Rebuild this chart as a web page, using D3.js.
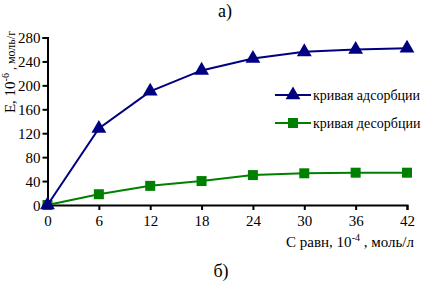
<!DOCTYPE html>
<html>
<head>
<meta charset="utf-8">
<script src="https://cdn.jsdelivr.net/npm/d3@7"></script>
</head>
<body style="margin:0; background:#fff">
<svg class="chart" width="421" height="286" font-family="Liberation Serif"></svg>
<script>
var xValues = [0, 6, 12, 18, 24, 30, 36, 42];
var adsorption = [0, 128, 190, 225, 245, 256, 260, 262];
var desorption = [0, 18, 32, 40, 50, 53, 54, 54];
var yTicks = [0, 40, 80, 120, 160, 200, 240, 280];
var seriesNames = ["кривая адсорбции", "кривая десорбции"];

var FONT = "Liberation Serif";
var vis = d3.select(".chart"),
    MARGINS = { top: 37.5, right: 14, bottom: 81, left: 47.5 };

var xScale = d3.scaleLinear().domain([0, 42]).range([MARGINS.left, 407]),
    yScale = d3.scaleLinear().domain([0, 280]).range([205, MARGINS.top]);

var xAxis = d3.axisBottom(xScale).tickValues(xValues).tickSize(5).tickPadding(5),
    yAxis = d3.axisLeft(yScale).tickValues(yTicks).tickSize(5).tickPadding(2);

var gx = vis.append("g").attr("transform", "translate(0,205)").call(xAxis);
var gy = vis.append("g").attr("transform", "translate(" + MARGINS.left + ",0)").call(yAxis);
[gx, gy].forEach(function (g) {
  g.attr("font-family", FONT).attr("font-size", 15);
  g.select(".domain").attr("stroke", "#000").attr("stroke-width", 2);
  g.selectAll(".tick line").attr("stroke", "#000").attr("stroke-width", 2);
  g.selectAll(".tick text").attr("fill", "#000");
});
gy.selectAll(".tick text").attr("dy", "0.35em");

var lineGen = function (vals) {
  return d3.line().x(function (d, i) { return xScale(xValues[i]); })
                  .y(function (d) { return yScale(d); })(vals);
};

var tri = d3.symbol().type(d3.symbolTriangle).size(95),
    sq = d3.symbol().type(d3.symbolSquare).size(100);

function drawSeries(vals, color, sym) {
  vis.append("path").attr("d", lineGen(vals)).attr("stroke", color)
     .attr("stroke-width", 2).attr("fill", "none");
  vis.selectAll(null).data(vals).enter().append("path")
     .attr("d", sym)
     .attr("transform", function (d, i) { return "translate(" + xScale(xValues[i]) + "," + yScale(d) + ")"; })
     .attr("fill", color);
}
drawSeries(desorption, "#008000", sq);
drawSeries(adsorption, "#000080", tri);

// legend
var legend = [
  { name: seriesNames[0], color: "#000080", sym: tri, y: 95 },
  { name: seriesNames[1], color: "#008000", sym: sq, y: 123 }
];
legend.forEach(function (l) {
  vis.append("line").attr("x1", 275).attr("x2", 311).attr("y1", l.y).attr("y2", l.y)
     .attr("stroke", l.color).attr("stroke-width", 2);
  vis.append("path").attr("d", l.sym).attr("fill", l.color)
     .attr("transform", "translate(293," + l.y + ")");
  vis.append("text").attr("x", 313).attr("y", l.y).attr("dy", "0.35em")
     .attr("font-family", FONT).attr("font-size", 14).text(l.name);
});

// titles
vis.append("text").attr("x", 225).attr("y", 17).attr("text-anchor", "middle")
   .attr("font-family", FONT).attr("font-size", 18).text("а)");
vis.append("text").attr("x", 221).attr("y", 277).attr("text-anchor", "middle")
   .attr("font-family", FONT).attr("font-size", 18).text("б)");

// axis labels
var xl = vis.append("text").attr("x", 414).attr("y", 247).attr("text-anchor", "end")
   .attr("font-family", FONT).attr("font-size", 15);
xl.append("tspan").text("С равн, 10");
xl.append("tspan").attr("dy", -6).attr("font-size", 10).text("-4");
xl.append("tspan").attr("dy", 6).text(" , моль/л");

var yl = vis.append("text").attr("transform", "translate(15,72) rotate(-90)")
   .attr("text-anchor", "middle").attr("font-family", FONT).attr("font-size", 15);
yl.append("tspan").text("Е, 10");
yl.append("tspan").attr("dy", -6).attr("font-size", 10).text("-6");
yl.append("tspan").attr("dy", 6).attr("font-size", 12).text(" , моль/г");
</script>
</body>
</html>
